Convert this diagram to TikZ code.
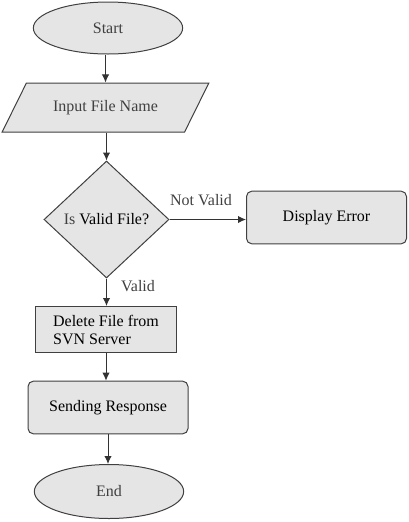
\documentclass[tikz,border=0pt]{standalone}
\usepackage{fontspec}
\setmainfont{Liberation Serif}
\usetikzlibrary{shapes.geometric,arrows.meta}

\begin{document}
\begin{tikzpicture}[x=0.75pt,y=-0.75pt,
        every node/.style={font=\fontsize{12}{13.5}\selectfont},
        box/.style={draw=black!75,fill=gray!20,line width=0.75pt},
        term/.style={box,ellipse,minimum width=112pt,text=black!75},
        io/.style={box,trapezium,trapezium left angle=44,trapezium right angle=136,
            trapezium stretches body,minimum width=155pt,minimum height=36.75pt,text=black!75},
        decide/.style={box,diamond,minimum width=93.75pt,minimum height=87.75pt,inner sep=0pt},
        proc/.style={box,minimum width=105.75pt,minimum height=34.5pt,align=left},
        roundproc/.style={box,rounded corners=4pt,minimum width=120pt,minimum height=39.5pt},
        flow/.style={-{Latex[length=6pt,width=5.5pt]},draw=black!80,line width=0.75pt}]
        \useasboundingbox (0,0) rectangle (408,522);

        \node[term,minimum height=39pt] (start) at (108,28) {Start};
        \node[io] (input) at (105.5,107.5) {Input File Name};
        \node[decide] (check) at (106.5,219.5) {{\color{black!75}Is} Valid File?};
        \node[roundproc] (error) at (326.5,217.5) {Display Error};
        \node[proc] (delete) at (106,329.5) {Delete File from\\SVN Server};
        \node[roundproc] (respond) at (108,407.5) {Sending Response};
        \node[term,minimum height=40.5pt] (end) at (109,491.5) {End};

        \node[text=black!75] (notvalid) at (201,200) {Not Valid};
        \node[text=black!75] (valid) at (138,286) {Valid};

        \draw[flow] (input.north |- start.south) -- (input.north);
        \draw[flow] (input.south -| check.north) -- (check.north);
        \draw[flow] (check.east) -- (check.east -| error.west);
        \draw[flow] (check.south) -- (check.south |- delete.north);
        \draw[flow] (delete.south) -- (delete.south |- respond.north);
        \draw[flow] (respond.south) -- (respond.south |- end.north);

    \end{tikzpicture}
\end{document}
